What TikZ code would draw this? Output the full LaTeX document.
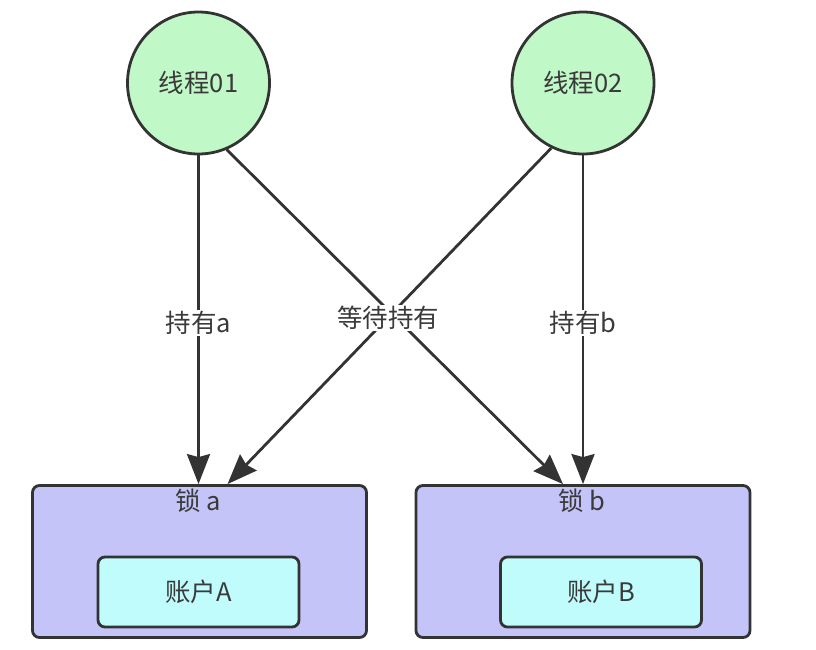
\documentclass[tikz,border=0pt]{standalone}
\usepackage{fontspec}
\newfontfamily\cjk{Noto Sans CJK SC}
\usetikzlibrary{arrows.meta,calc}
\definecolor{edgec}{HTML}{333333}
\definecolor{txtc}{HTML}{3A3A3A}
\definecolor{thrfill}{HTML}{C0F8C8}
\definecolor{lockfill}{HTML}{C4C4F8}
\definecolor{acctfill}{HTML}{C0FCFC}
\tikzset{
  txt/.style={font=\cjk\fontsize{25.5}{29}\selectfont, text=txtc},
  thread/.style={txt, circle, draw=edgec, line width=2.8pt, fill=thrfill, minimum size=142pt, inner sep=0pt},
  lockbox/.style={draw=edgec, line width=2.8pt, fill=lockfill, rounded corners=7pt, minimum width=334pt, minimum height=152pt, inner sep=0pt},
  acctbox/.style={txt, draw=edgec, line width=2.8pt, fill=acctfill, rounded corners=7pt, minimum width=201pt, minimum height=70pt, inner sep=0pt},
  conn/.style={draw=edgec, line width=2.8pt, -{Stealth[length=30pt,width=23pt,inset=3pt]}},
  lbl/.style={txt, fill=white, inner sep=1pt},
}
\begin{document}
\begin{tikzpicture}[x=1pt,y=-1pt]
\useasboundingbox (0,0) rectangle (816,650);
\node[thread] (t1) at (198.5,83) {线程01};
\node[thread] (t2) at (583,83) {线程02};
\node[lockbox] (la) at (199.5,561.5) {};
\node[lockbox] (lb) at (583,561.5) {};
\node[txt, anchor=center] (lat) at (198,501) {锁 a};
\node[txt, anchor=center] (lbt) at (582,501) {锁 b};
\node[acctbox] (aa) at (198.5,592) {账户A};
\node[acctbox] (ab) at (601,592) {账户B};
\draw[conn] (t1.south) -- (t1.south |- la.north);
\draw[conn] (t2.south) -- (t2.south |- lb.north);
\draw[conn] (t1.-67) -- ($(lb.north)+(-20,0)$);
\draw[conn] (t2.-116) -- ($(la.north)+(28,0)$);
\node[lbl] (ha) at (198.5,323) {持有a};
\node[lbl] (hb) at (583,323) {持有b};
\node[lbl] (wait) at (388,318) {等待持有};
\end{tikzpicture}
\end{document}
